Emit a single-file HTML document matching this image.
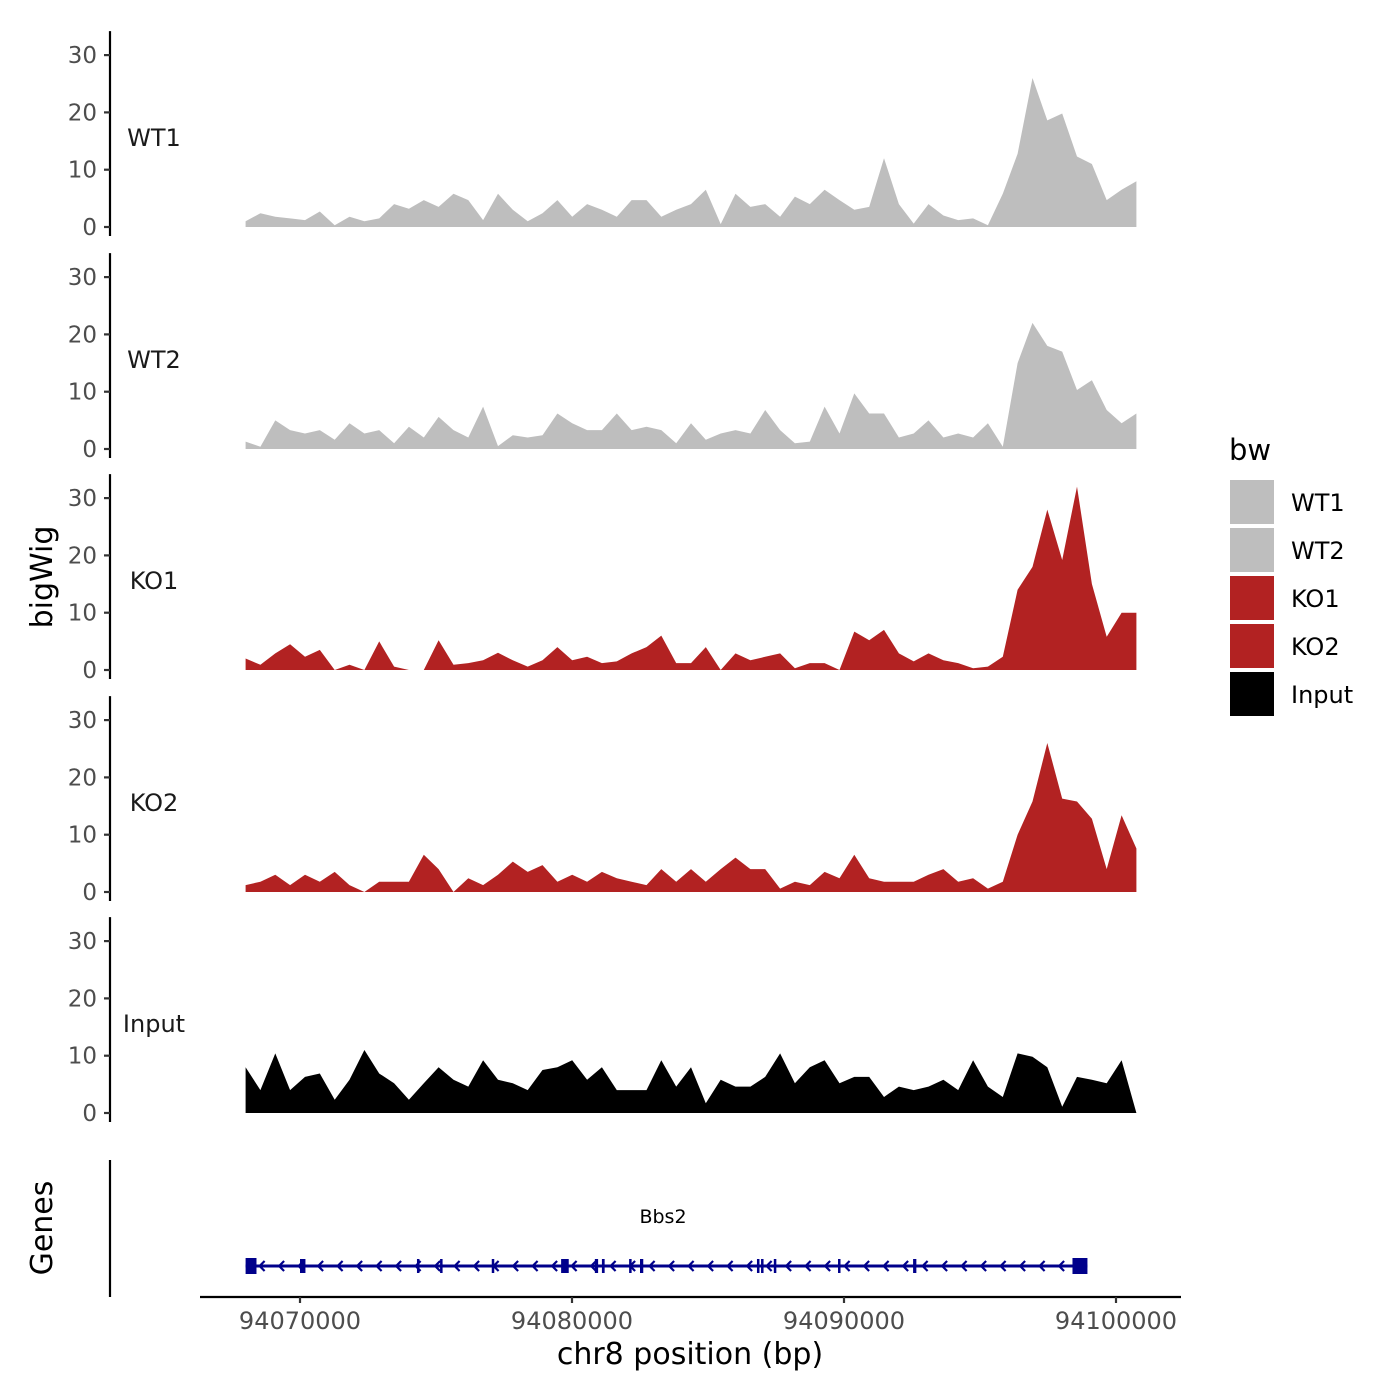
<!DOCTYPE html>
<html><head><meta charset="utf-8"><style>
html,body{margin:0;padding:0;background:#fff;}
svg{display:block;font-family:"DejaVu Sans","Liberation Sans",sans-serif;}
</style></head><body>
<svg id="chart" width="1400" height="1400" viewBox="0 0 1400 1400" xmlns="http://www.w3.org/2000/svg">
<rect x="0" y="0" width="1400" height="1400" fill="#fff"/>
<g id="panels"></g>
<g id="genes"></g>
<g id="xaxis"></g>
<text x="0" y="0" transform="translate(52,577) rotate(-90)" text-anchor="middle" font-size="30" fill="#000">bigWig</text>
<text x="0" y="0" transform="translate(52,1228) rotate(-90)" text-anchor="middle" font-size="30" fill="#000">Genes</text>
<text x="690" y="1364" text-anchor="middle" font-size="30" fill="#000">chr8 position (bp)</text>
<g id="legend">
<text x="1229" y="460" font-size="29" fill="#000">bw</text>
</g>
</svg>
<script>
const startBp = 94068000;
const stepBp = 545;
const trackNames = ["WT1","WT2","KO1","KO2","Input"];
const trackColors = ["#bebebe","#bebebe","#b22222","#b22222","#000000"];
const wt1Values = [1,2.4,1.8,1.5,1.2,2.7,0.3,1.8,1,1.5,4,3.2,4.7,3.5,5.8,4.7,1.2,5.8,3,1,2.4,4.7,1.8,4,3,1.8,4.7,4.7,1.8,3,4,6.5,0.5,5.8,3.5,4,1.8,5.3,4,6.5,4.7,3,3.5,12,4,0.6,4,2,1.2,1.5,0.3,5.8,12.8,26,18.6,19.8,12.3,11,4.7,6.5,8];
const wt2Values = [1.3,0.4,5,3.3,2.7,3.3,1.6,4.5,2.7,3.3,1,3.9,2,5.6,3.3,2,7.4,0.5,2.4,2,2.4,6.2,4.5,3.3,3.3,6.2,3.3,3.9,3.3,1,4.5,1.6,2.7,3.3,2.7,6.8,3.3,1,1.3,7.4,2.7,9.7,6.2,6.2,2,2.7,5,2,2.7,2,4.5,0.4,15,22,18,17,10.3,12,6.8,4.5,6.2];
const ko1Values = [2,0.9,2.9,4.5,2.3,3.5,0,0.9,0,5,0.6,0,0,5.2,0.9,1.2,1.7,3,1.7,0.6,1.7,4,1.7,2.3,1.2,1.5,2.9,4,6,1.2,1.2,4,0,2.9,1.7,2.3,2.9,0.3,1.2,1.2,0,6.7,5.2,7,2.9,1.5,2.9,1.7,1.2,0.3,0.6,2.3,14,18,28,19.2,32,15,5.8,10,10];
const ko2Values = [1.2,1.8,3,1.2,3,1.8,3.5,1.2,0,1.8,1.8,1.8,6.5,4,0,2.4,1.2,3,5.3,3.5,4.7,1.8,3,1.8,3.5,2.4,1.8,1.2,4,1.8,4,1.8,4,6,4,4,0.6,1.8,1.2,3.5,2.4,6.5,2.4,1.8,1.8,1.8,3,4,1.8,2.4,0.6,1.8,10,15.8,26,16.3,15.8,12.8,4,13.4,7.6];
const inputValues = [8,4,10.4,4,6.3,6.9,2.3,5.8,11,6.9,5.2,2.3,5.2,8,5.8,4.6,9.2,5.8,5.2,4,7.5,8,9.2,5.8,8,4,4,4,9.2,4.6,8,1.7,5.8,4.6,4.6,6.3,10.4,5.2,8,9.2,5.2,6.3,6.3,2.8,4.6,4,4.6,5.8,4,9.2,4.6,2.8,10.4,9.8,8,1.1,6.3,5.8,5.2,9.2,0];
const allValues = [wt1Values,wt2Values,ko1Values,ko2Values,inputValues];
const yTicks = [0,10,20,30];
const xTicks = [94070000,94080000,94090000,94100000];
const geneName = "Bbs2";
const exonStarts = [94068000,94070000,94074300,94075150,94077050,94079600,94080840,94081100,94082100,94082500,94086800,94086950,94087420,94089780,94092540,94098400];
const exonEnds   = [94068400,94070200,94074360,94075230,94077130,94079880,94080960,94081200,94082180,94082620,94086870,94087020,94087500,94089860,94092660,94098950];
const geneStart = 94068000, geneEnd = 94098950;

const NS="http://www.w3.org/2000/svg";
function mk(tag, attrs, parent){const e=document.createElementNS(NS,tag);for(const k in attrs)e.setAttribute(k,attrs[k]);parent.appendChild(e);return e;}
function xScale(bp){return 300 + (bp-94070000)*0.0272;}
const panelBase=[227,449,670,892,1113];
const pxPerUnit=5.73;
const panels=document.getElementById('panels');
trackNames.forEach((nm,i)=>{
  const g=mk('g',{},panels);
  
  
  const base=panelBase[i];
  const yS=v=>base - v*pxPerUnit;
  const vals=allValues[i];
  const stp=(94100750-startBp)/(vals.length-1);
  let d='M'+xScale(startBp).toFixed(1)+','+base;
  vals.forEach((v,k)=>{d+=' L'+xScale(startBp+k*stp).toFixed(1)+','+yS(v).toFixed(1);});
  d+=' L'+xScale(startBp+(vals.length-1)*stp).toFixed(1)+','+base+' Z';
  const p=mk('path',{d:d,fill:trackColors[i],stroke:'none'},g);
  
  
  const ax=mk('line',{x1:110,x2:110,y1:yS(30)-24,y2:base+9,stroke:'#000','stroke-width':2.2},g);
  
  
  yTicks.forEach(t=>{
    mk('line',{x1:104,x2:110,y1:yS(t),y2:yS(t),stroke:'#333','stroke-width':2.2},g);
    const tx=mk('text',{x:97,y:yS(t)+8,'text-anchor':'end','font-size':23,fill:'#4d4d4d'},g);
    tx.textContent=t;
    
    
  });
  const lb=mk('text',{x:154,y:yS(15.5)+8,'text-anchor':'middle','font-size':24,fill:'#1a1a1a'},g);
  lb.textContent=nm;
  
  
});
// genes
const gg=document.getElementById('genes');
const gl=mk('line',{x1:110,x2:110,y1:1160,y2:1297,stroke:'#000','stroke-width':2.2},gg);


const gy=1266;
mk('line',{x1:xScale(geneStart),x2:xScale(geneEnd),y1:gy,y2:gy,stroke:'#00008b','stroke-width':3},gg);
for(let x=xScale(geneStart)+14;x<xScale(geneEnd)-10;x+=19.5){
  mk('polyline',{points:(x+5)+','+(gy-5)+' '+x+','+gy+' '+(x+5)+','+(gy+5),fill:'none',stroke:'#00008b','stroke-width':2.2},gg);
}
exonStarts.forEach((s,k)=>{
  const x1=xScale(s),x2=xScale(exonEnds[k]);
  const big=(k===0||k===exonStarts.length-1);
  const r=mk('rect',{x:x1,y:big?gy-8:gy-7,width:Math.max(x2-x1,2.5),height:big?16:14,fill:'#00008b'},gg);
  
  
});
const gn=mk('text',{x:663,y:1223,'text-anchor':'middle','font-size':19,fill:'#000'},gg);
gn.textContent=geneName;


// x axis
const xa=document.getElementById('xaxis');
mk('line',{x1:200,x2:1181,y1:1297,y2:1297,stroke:'#000','stroke-width':2.2},xa);
xTicks.forEach(t=>{
  const x=xScale(t);
  mk('line',{x1:x,x2:x,y1:1297,y2:1303,stroke:'#333','stroke-width':2.2},xa);
  const tx=mk('text',{x:x,y:1329,'text-anchor':'middle','font-size':24,fill:'#4d4d4d'},xa);
  tx.textContent=t;
  
  
});
// legend
const lg=document.getElementById('legend');
trackNames.forEach((nm,i)=>{
  const y=480+i*48;
  const r=mk('rect',{x:1230,y:y,width:44,height:44,fill:trackColors[i]},lg);
  
  
  const t=mk('text',{x:1291,y:y+31,'font-size':24,fill:'#000'},lg);
  t.textContent=nm;
  
  
});
</script>
</body></html>
